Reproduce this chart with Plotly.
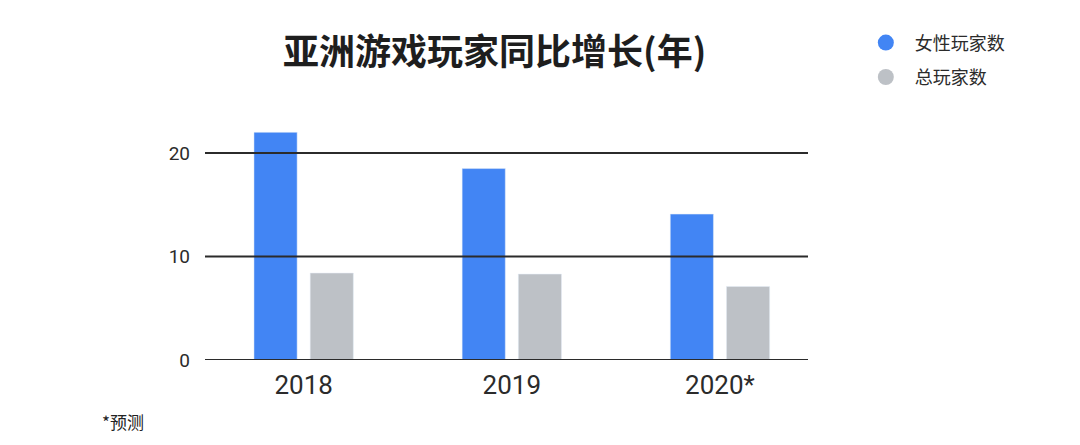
import plotly.graph_objs as go

years = ["2018", "2019", "2020*"]
female_players = [22.0, 18.5, 14.1]
total_players = [8.4, 8.3, 7.1]
y_ticks = [0, 10, 20]

title_text = "亚洲游戏玩家同比增长(年)"
female_name = "女性玩家数"
total_name = "总玩家数"
footnote = "*预测"

blue = "#4285f4"
grey = "#bdc1c6"
dark = "#2b2b2b"
font_family = "Roboto, 'Noto Sans CJK SC', sans-serif"
cjk_family = "'Noto Sans CJK SC', sans-serif"

fig = go.Figure()

fig.add_trace(go.Bar(
    x = years,
    y = female_players,
    name = female_name,
    marker_color = blue,
    showlegend = False,
    hovertemplate = '%{x}: %{y}<extra></extra>'
))
fig.add_trace(go.Bar(
    x = years,
    y = total_players,
    name = total_name,
    marker_color = grey,
    showlegend = False,
    hovertemplate = '%{x}: %{y}<extra></extra>'
))

# legend-only traces with round symbols
for name, color, grp in [(female_name, blue, "a"), (total_name, grey, "b")]:
    fig.add_trace(go.Scatter(
        x = [None],
        y = [None],
        mode = "markers",
        name = name,
        legendgroup = grp,
        marker = dict(color = color, size = 18, symbol = "circle")
    ))

# gridlines drawn above the bars, as in the original
for t in y_ticks:
    fig.add_shape(
        type = "line", xref = "paper", yref = "y",
        x0 = 0, x1 = 1, y0 = t, y1 = t,
        line = dict(color = dark, width = 2),
        layer = "above"
    )

# page body adds an 8px margin, so the figure is a bit smaller than the window
fig.update_layout(
    width = 1072,
    height = 437,
    margin = dict(l = 197, r = 272, t = 114, b = 85),
    plot_bgcolor = "white",
    paper_bgcolor = "white",
    barmode = "group",
    bargap = 0.46,
    bargroupgap = 0.232,
    font = dict(family = font_family, color = dark),
    title = dict(
        text = "<b>" + title_text + "</b>",
        x = 0.454, xanchor = "center",
        y = 0.899, yanchor = "middle",
        font = dict(size = 36, color = "#1e1e1e", family = cjk_family)
    ),
    legend = dict(
        x = 1.081, xanchor = "left",
        y = 1.41, yanchor = "top",
        font = dict(size = 18, color = dark, family = cjk_family),
        itemsizing = "trace",
        itemwidth = 48,
        tracegroupgap = 8,
        bgcolor = "rgba(0,0,0,0)"
    ),
    annotations = [dict(
        text = footnote,
        xref = "paper", yref = "paper",
        x = -0.174, y = -0.26,
        xanchor = "left", yanchor = "middle",
        showarrow = False,
        font = dict(size = 17, color = "#222", family = cjk_family)
    )]
)

fig.update_xaxes(
    range = [-0.474, 2.423],
    showgrid = False,
    showline = False,
    ticks = "",
    tickfont = dict(size = 26, color = dark),
    ticklabelstandoff = 7
)
fig.update_yaxes(
    range = [0, 23],
    tickvals = y_ticks,
    showgrid = False,
    zeroline = False,
    showline = False,
    tickfont = dict(size = 19, color = dark),
    ticklabelstandoff = 14
)

fig.write_html("out.html")
